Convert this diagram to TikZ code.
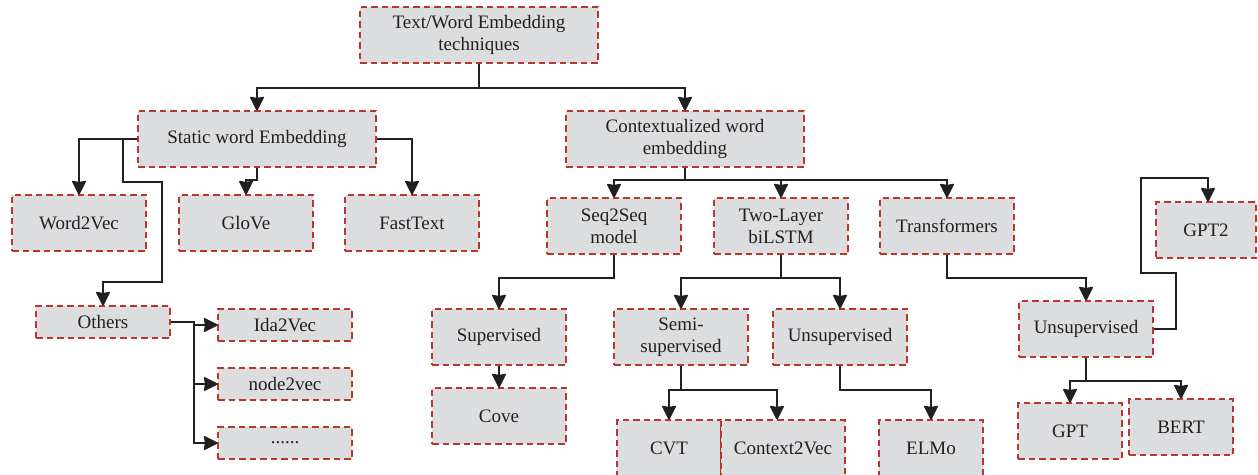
\documentclass[tikz,border=0pt]{standalone}
\usepackage{fontspec}
\setmainfont{Liberation Serif}
\usetikzlibrary{arrows.meta}
\definecolor{boxfill}{HTML}{DCDDDF}
\definecolor{boxline}{HTML}{B8372D}
\definecolor{ink}{HTML}{231F20}
\tikzset{
  box/.style={draw=boxline, fill=boxfill, line width=1.2pt,
    dash pattern=on 6.5pt off 4pt, inner sep=0pt, align=center,
    text=ink, font=\fontsize{19}{22}\selectfont},
  arr/.style={draw=ink, line width=1.8pt,
    -{Stealth[length=15pt,width=15pt,inset=1.5pt,round=false]}}
}
\begin{document}
\begin{tikzpicture}[x=1pt,y=-1pt]
\useasboundingbox (0,0) rectangle (1258,474);

% levels of the tree
\node[box, minimum width=238, minimum height=56] (root) at (479,35)
  {Text/Word Embedding\\techniques};
\node[box, minimum width=238, minimum height=56] (static) at (257,139)
  {Static word Embedding};
\node[box, minimum width=238, minimum height=56] (ctx) at (685,139)
  {Contextualized word\\embedding};

\node[box, minimum width=134, minimum height=56] (w2v) at (79,223) {Word2Vec};
\node[box, minimum width=134, minimum height=56] (glove) at (246,223) {GloVe};
\node[box, minimum width=134, minimum height=56] (fast) at (412,223) {FastText};

\node[box, minimum width=134, minimum height=56] (seq) at (614,226) {Seq2Seq\\model};
\node[box, minimum width=134, minimum height=56] (bilstm) at (781,226) {Two-Layer\\biLSTM};
\node[box, minimum width=134, minimum height=56] (trans) at (947,226) {Transformers};
\node[box, minimum width=100, minimum height=56] (gpt2) at (1206,230) {GPT2};

\node[box, minimum width=134, minimum height=32] (others) at (103,322) {Others};
\node[box, minimum width=134, minimum height=32] (ida) at (285,325) {Ida2Vec};
\node[box, minimum width=134, minimum height=32] (n2v) at (285,384) {node2vec};
\node[box, minimum width=134, minimum height=32] (dots) at (285,443) {\raisebox{1pt}{......}};

\node[box, minimum width=134, minimum height=56] (sup) at (499,337) {Supervised};
\node[box, minimum width=134, minimum height=56] (cove) at (499,416) {Cove};
\node[box, minimum width=134, minimum height=56] (semi) at (681,337) {Semi-\\supervised};
\node[box, minimum width=134, minimum height=56] (unsa) at (840,337) {Unsupervised};

\node[box, minimum width=104, minimum height=56] (cvt) at (669,448) {CVT};
\node[box, minimum width=124, minimum height=56] (c2v) at (783,448) {Context2Vec};
\node[box, minimum width=104, minimum height=56] (elmo) at (931,448) {ELMo};

\node[box, minimum width=134, minimum height=56] (unsb) at (1086,329) {Unsupervised};
\node[box, minimum width=104, minimum height=56] (gpt) at (1070,431) {GPT};
\node[box, minimum width=104, minimum height=56] (bert) at (1181,427) {BERT};

% connectors
\draw[arr] (root.south) -- ++(0,24) -| (static.north);
\draw[arr] (root.south) -- ++(0,24) -| (ctx.north);

\draw[arr] (static.west) -| (w2v.north);
\draw[arr] (static.west) -| (123,182) -- (162,182) -- (162,282) -| (others.north);
\draw[arr] (static.south) -- ++(0,12) -| (glove.north);
\draw[arr] (static.east) -| (fast.north);

\draw[arr] (others.east) -- ++(23,0) |- (ida.west);
\draw[arr] (others.east) -- ++(23,0) |- (n2v.west);
\draw[arr] (others.east) -- ++(23,0) |- (dots.west);

\draw[arr] (ctx.south) -- ++(0,12) -| (seq.north);
\draw[arr] (ctx.south) -- ++(0,12) -| (bilstm.north);
\draw[arr] (ctx.south) -- ++(0,12) -| (trans.north);

\draw[arr] (seq.south) -- ++(0,23) -| (sup.north);
\draw[arr] (sup.south) -- (cove.north);

\draw[arr] (bilstm.south) -- ++(0,23) -| (semi.north);
\draw[arr] (bilstm.south) -- ++(0,23) -| (unsa.north);

\draw[arr] (semi.south) -- ++(0,24) -| (cvt.north);
\draw[arr] (semi.south) -- ++(0,24) -| ([xshift=-6pt]c2v.north);
\draw[arr] (unsa.south) -- ++(0,24) -| (elmo.north);

\draw[arr] (trans.south) -- ++(0,23) -| (unsb.north);
\draw[arr] (unsb.east) -| (1176,273) -- (1141,273) -- (1141,178) -| ([xshift=2pt]gpt2.north);
\draw[arr] (unsb.south) -- ++(0,23) -| (gpt.north);
\draw[arr] (unsb.south) -- ++(0,23) -| (bert.north);
\end{tikzpicture}
\end{document}
